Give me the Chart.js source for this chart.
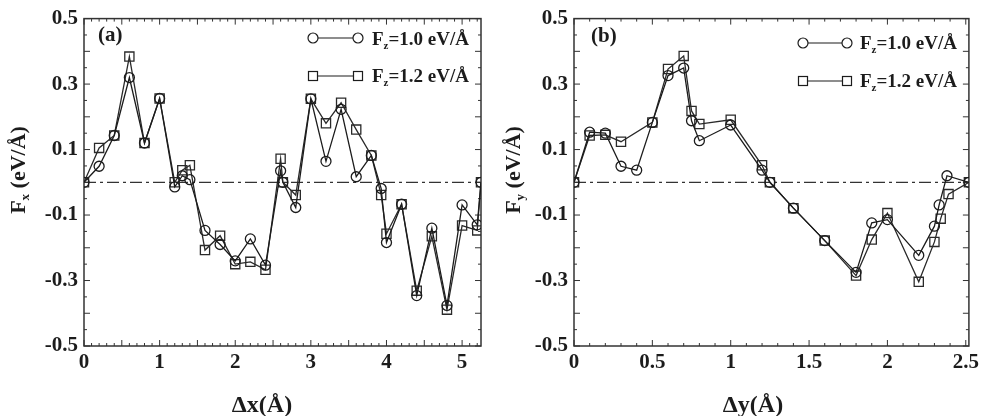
<!DOCTYPE html>
<html>
<head>
<meta charset="utf-8">
<script src="https://cdn.jsdelivr.net/npm/chart.js@4.4.0/dist/chart.umd.min.js"></script>
<style>
body { margin: 0; background: #fff; width: 983px; height: 416px; overflow: hidden; position: relative; }
canvas { position: absolute; top: 0; }
#chartA { left: 0; }
#chartB { left: 491px; }
</style>
</head>
<body>
<canvas id="chartA" width="491" height="416"></canvas>
<canvas id="chartB" width="492" height="416"></canvas>
<script>
// panel (a): Fx against dx
const dxCircle = [0, 0.2, 0.4, 0.6, 0.8, 1.0, 1.2, 1.3, 1.4, 1.6, 1.8, 2.0, 2.2, 2.4, 2.6, 2.63, 2.8, 3.0, 3.2, 3.4, 3.6, 3.8, 3.93, 4.0, 4.2, 4.4, 4.6, 4.8, 5.0, 5.2, 5.25];
const fxCircle = [0, 0.049, 0.143, 0.32, 0.12, 0.256, -0.014, 0.02, 0.008, -0.147, -0.19, -0.24, -0.173, -0.253, 0.035, 0, -0.077, 0.255, 0.064, 0.223, 0.017, 0.082, -0.019, -0.184, -0.067, -0.346, -0.14, -0.376, -0.069, -0.13, 0];
const dxSquare = [0, 0.2, 0.4, 0.6, 0.8, 1.0, 1.2, 1.3, 1.4, 1.6, 1.8, 2.0, 2.2, 2.4, 2.6, 2.63, 2.8, 3.0, 3.2, 3.4, 3.6, 3.8, 3.93, 4.0, 4.2, 4.4, 4.6, 4.8, 5.0, 5.2, 5.25];
const fxSquare = [0, 0.105, 0.143, 0.384, 0.12, 0.256, 0.0, 0.037, 0.052, -0.207, -0.163, -0.25, -0.243, -0.267, 0.072, 0, -0.039, 0.255, 0.18, 0.243, 0.161, 0.082, -0.039, -0.157, -0.067, -0.331, -0.165, -0.389, -0.132, -0.147, 0];

// panel (b): Fy against dy
const dyCircle = [0, 0.1, 0.2, 0.3, 0.4, 0.5, 0.6, 0.7, 0.75, 0.8, 1.0, 1.2, 1.25, 1.4, 1.6, 1.8, 1.9, 2.0, 2.2, 2.3, 2.33, 2.38, 2.52];
const fyCircle = [0, 0.153, 0.15, 0.049, 0.037, 0.183, 0.326, 0.349, 0.188, 0.127, 0.175, 0.037, 0, -0.079, -0.178, -0.275, -0.124, -0.114, -0.223, -0.134, -0.069, 0.02, 0];
const dySquare = [0, 0.1, 0.2, 0.3, 0.5, 0.6, 0.7, 0.75, 0.8, 1.0, 1.2, 1.25, 1.4, 1.6, 1.8, 1.9, 2.0, 2.2, 2.3, 2.34, 2.39, 2.52];
const fySquare = [0, 0.143, 0.145, 0.124, 0.183, 0.346, 0.386, 0.218, 0.178, 0.191, 0.052, 0, -0.079, -0.178, -0.285, -0.175, -0.094, -0.304, -0.182, -0.111, -0.036, 0];

const xTicksA = [0, 1, 2, 3, 4, 5];
const xTicksB = [0, 0.5, 1, 1.5, 2, 2.5];
const yTicks = [-0.5, -0.3, -0.1, 0.1, 0.3, 0.5];
const legendLabels = ['=1.0 eV/Å', '=1.2 eV/Å'];

const SERIF = '"Liberation Serif", "DejaVu Serif", serif';
const INK = '#1c1c1c';

function toPoints(xs, ys) {
    return xs.map((x, i) => ({ x: x, y: ys[i] }));
}

// frame, inward ticks on all sides, dash-dot zero line
const framePlugin = {
    id: 'frame',
    beforeDatasetsDraw(chart, args, opts) {
        const ctx = chart.ctx;
        const a = chart.chartArea;
        const xs = chart.scales.x, ys = chart.scales.y;
        ctx.save();
        ctx.strokeStyle = '#333';
        ctx.lineWidth = 1.3;
        ctx.setLineDash([12, 4, 3, 4]);
        const y0 = ys.getPixelForValue(0);
        ctx.beginPath();
        ctx.moveTo(a.left, y0);
        ctx.lineTo(a.right, y0);
        ctx.stroke();
        ctx.setLineDash([]);

        ctx.strokeStyle = '#333';
        ctx.lineWidth = 1.5;
        ctx.strokeRect(a.left, a.top, a.right - a.left, a.bottom - a.top);

        ctx.lineWidth = 1;
        const isMajor = (v, m) => Math.abs(v / m - Math.round(v / m)) < 1e-6;
        for (let i = Math.ceil(xs.min / opts.xMinor - 1e-6); i * opts.xMinor <= xs.max + 1e-9; i++) {
            const v = i * opts.xMinor;
            const px = xs.getPixelForValue(v);
            const len = isMajor(v, opts.xMajor) ? 6 : 3;
            ctx.beginPath();
            ctx.moveTo(px, a.bottom); ctx.lineTo(px, a.bottom - len);
            ctx.moveTo(px, a.top); ctx.lineTo(px, a.top + len);
            ctx.stroke();
        }
        for (let i = Math.ceil(ys.min / opts.yMinor - 1e-6); i * opts.yMinor <= ys.max + 1e-9; i++) {
            const v = i * opts.yMinor;
            const py = ys.getPixelForValue(v);
            const len = isMajor(v, opts.yMajor) ? 6 : 3;
            ctx.beginPath();
            ctx.moveTo(a.left, py); ctx.lineTo(a.left + len, py);
            ctx.moveTo(a.right, py); ctx.lineTo(a.right - len, py);
            ctx.stroke();
        }
        ctx.restore();
    }
};

function drawParts(ctx, x, y, parts) {
    let cx = x;
    parts.forEach(p => {
        ctx.font = 'bold ' + p.size + 'px ' + SERIF;
        ctx.fillText(p.t, cx, y + (p.dy || 0));
        cx += ctx.measureText(p.t).width;
    });
    return cx - x;
}

function partsWidth(ctx, parts) {
    let w = 0;
    parts.forEach(p => {
        ctx.font = 'bold ' + p.size + 'px ' + SERIF;
        w += ctx.measureText(p.t).width;
    });
    return w;
}

// panel letter, axis titles and the legend
const notesPlugin = {
    id: 'notes',
    afterDraw(chart, args, o) {
        const ctx = chart.ctx;
        ctx.save();
        ctx.fillStyle = INK;
        ctx.textBaseline = 'alphabetic';
        ctx.textAlign = 'left';

        ctx.font = 'bold 21px ' + SERIF;
        ctx.fillText(o.panel, o.panelX, o.panelY);

        const xt = [{ t: 'Δ' + o.v + '(Å)', size: 24 }];
        drawParts(ctx, o.xTitleX - partsWidth(ctx, xt) / 2, o.xTitleY, xt);

        const yt = [{ t: 'F', size: 22 }, { t: o.v, size: 13, dy: 4 }, { t: ' (eV/Å)', size: 22 }];
        ctx.save();
        ctx.translate(o.yTitleX, o.yTitleY);
        ctx.rotate(-Math.PI / 2);
        drawParts(ctx, -partsWidth(ctx, yt) / 2, 8, yt);
        ctx.restore();

        ctx.strokeStyle = INK;
        ctx.lineWidth = 1.2;
        o.legendRows.forEach((row, i) => {
            ctx.beginPath();
            if (i === 0) {
                ctx.moveTo(o.legX1 + 5, row.y); ctx.lineTo(o.legX2 - 5, row.y);
                ctx.stroke();
                [o.legX1, o.legX2].forEach(cx => {
                    ctx.beginPath(); ctx.arc(cx, row.y, 5, 0, Math.PI * 2); ctx.stroke();
                });
            } else {
                ctx.moveTo(o.legX1 + 4.5, row.y); ctx.lineTo(o.legX2 - 4.5, row.y);
                ctx.stroke();
                [o.legX1, o.legX2].forEach(cx => {
                    ctx.strokeRect(cx - 4.5, row.y - 4.5, 9, 9);
                });
            }
            drawParts(ctx, o.legTextX, row.base, [
                { t: 'F', size: 19 }, { t: 'z', size: 11, dy: 4 }, { t: legendLabels[i], size: 19 }
            ]);
        });
        ctx.restore();
    }
};

function makeChart(id, circlePts, squarePts, xMax, xTicks, yWidth, padRight, notes) {
    const tickFont = { family: SERIF, size: 21, weight: 'bold' };
    return new Chart(document.getElementById(id), {
        type: 'scatter',
        data: {
            datasets: [{
                label: 'Fz=1.0 eV/Å',
                data: circlePts,
                showLine: true,
                borderColor: INK,
                borderWidth: 1.3,
                pointStyle: 'circle',
                pointRadius: 5,
                pointBorderWidth: 1.3,
                pointBorderColor: INK,
                pointBackgroundColor: 'rgba(0,0,0,0)'
            }, {
                label: 'Fz=1.2 eV/Å',
                data: squarePts,
                showLine: true,
                borderColor: '#2a2a2a',
                borderWidth: 1.3,
                pointStyle: 'rect',
                pointRadius: 6.5,
                pointBorderWidth: 1.3,
                pointBorderColor: '#2a2a2a',
                pointBackgroundColor: 'rgba(0,0,0,0)'
            }]
        },
        options: {
            responsive: false,
            animation: false,
            layout: { padding: { left: 0, right: padRight, top: 15, bottom: 0 } },
            plugins: {
                legend: { display: false },
                tooltip: { enabled: false },
                frame: { xMinor: 0.1, xMajor: 0.5, yMinor: 0.05, yMajor: 0.1 },
                notes: notes
            },
            scales: {
                x: {
                    type: 'linear', min: 0, max: xMax,
                    afterBuildTicks: s => { s.ticks = xTicks.map(v => ({ value: v })); },
                    afterFit: s => { s.height = 70; },
                    grid: { display: false, drawTicks: false },
                    border: { display: false },
                    ticks: { font: tickFont, color: INK, padding: 4, maxRotation: 0, autoSkip: false, callback: v => String(v) }
                },
                y: {
                    type: 'linear', min: -0.5, max: 0.5,
                    afterBuildTicks: s => { s.ticks = yTicks.map(v => ({ value: v })); },
                    afterFit: s => { s.width = yWidth; },
                    grid: { display: false, drawTicks: false },
                    border: { display: false },
                    ticks: { font: tickFont, color: INK, padding: 6, autoSkip: false, callback: v => v.toFixed(1) }
                }
            }
        },
        plugins: [framePlugin, notesPlugin]
    });
}

makeChart('chartA', toPoints(dxCircle, fxCircle), toPoints(dxSquare, fxSquare), 5.25, xTicksA, 84, 10, {
    panel: '(a)', panelX: 98, panelY: 41, v: 'x',
    xTitleX: 262, xTitleY: 412, yTitleX: 17, yTitleY: 170,
    legX1: 313, legX2: 358, legTextX: 372,
    legendRows: [{ y: 38, base: 45 }, { y: 76, base: 82 }]
});

makeChart('chartB', toPoints(dyCircle, fyCircle), toPoints(dySquare, fySquare), 2.52, xTicksB, 83, 13, {
    panel: '(b)', panelX: 100, panelY: 42, v: 'y',
    xTitleX: 262, xTitleY: 412, yTitleX: 21, yTitleY: 170,
    legX1: 312, legX2: 356, legTextX: 369,
    legendRows: [{ y: 43, base: 49 }, { y: 81, base: 87 }]
});
</script>
</body>
</html>
